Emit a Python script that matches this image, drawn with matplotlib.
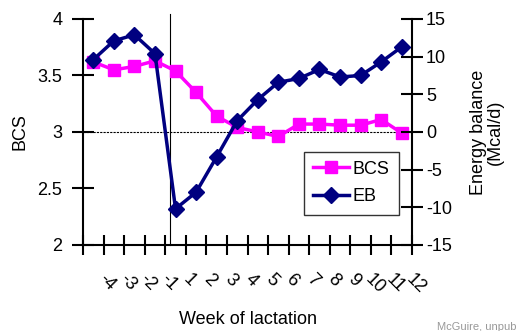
import matplotlib
matplotlib.use("Agg")
import matplotlib.pyplot as plt
import matplotlib.transforms as mtransforms

plt.rcParams['font.family'] = ['Liberation Sans', 'DejaVu Sans']
plt.rcParams['axes.unicode_minus'] = False

# weeks relative to calving (no week 0)
weeks = ['-4', '-3', '-2', '-1', '1', '2', '3', '4', '5', '6', '7', '8', '9', '10', '11', '12']
bcs = [3.62, 3.55, 3.58, 3.63, 3.54, 3.35, 3.14, 3.04, 3.00, 2.96, 3.07, 3.07, 3.06, 3.06, 3.11, 2.99]
eb = [9.6, 12.1, 12.9, 10.4, -10.2, -8.0, -3.3, 1.5, 4.3, 6.6, 7.1, 8.3, 7.3, 7.5, 9.3, 11.3]

pos = list(range(len(weeks)))

fig = plt.figure(figsize=(5.17, 3.31), dpi=100)
ax = fig.add_axes([0.1605, 0.26, 0.6365, 0.6826])
ax2 = ax.twinx()

l1, = ax.plot(pos, bcs, color='#FF00FF', lw=2.5, marker='s', ms=9, zorder=3)
l2, = ax2.plot(pos, eb, color='#000080', lw=2.5, marker='D', ms=8, zorder=3)

# calving marker and zero-balance reference line
ax.axvline(3.73, color='black', lw=0.8, ymax=1.02, clip_on=False)
ax.axhline(3.0, color='black', lw=0.8, ls=(0, (2, 1)), zorder=1)

ax.set_xlim(-0.5, len(weeks) - 0.5)
ax.set_ylim(2, 4)
ax2.set_ylim(-15, 15)
ax.set_yticks([2, 2.5, 3, 3.5, 4])
ax.set_yticklabels(['2', '2.5', '3', '3.5', '4'])
ax2.set_yticks(range(-15, 16, 5))

ax.set_xticks([p - 0.5 for p in pos] + [len(weeks) - 0.5])
ax.set_xticklabels([])
ax.set_xticks(pos, minor=True)
ax.set_xticklabels(weeks, minor=True, rotation=-45, ha='center', va='top', fontsize=13)
ax.tick_params(axis='x', which='minor', length=0, pad=16)
ax.tick_params(axis='x', which='major', direction='inout', length=14, width=1.5)

# nudge the slanted week labels right/down
shift = mtransforms.ScaledTranslation(14 / 100, -4 / 100, fig.dpi_scale_trans)
for lab in ax.get_xticklabels(minor=True):
    lab.set_transform(lab.get_transform() + shift)

ax.tick_params(axis='y', direction='inout', length=16, width=1.5, labelsize=13, pad=7)
ax2.tick_params(axis='y', direction='inout', length=16, width=1.5, labelsize=13, pad=2)

for a in (ax, ax2):
    a.spines['top'].set_visible(False)
    for s in ('left', 'right', 'bottom'):
        a.spines[s].set_linewidth(1.5)
ax.spines['right'].set_visible(False)
ax2.spines['left'].set_visible(False)
ax2.spines['bottom'].set_visible(False)

ax.set_ylabel('BCS', fontsize=13, labelpad=6)
ax2.set_ylabel('Energy balance\n(Mcal/d)', fontsize=13, labelpad=13, linespacing=1.0)
ax.set_xlabel('Week of lactation', fontsize=13, labelpad=10)

leg = ax2.legend([l1, l2], ['BCS', 'EB'], loc='upper left', bbox_to_anchor=(0.672, 0.413),
                 fontsize=13, frameon=True, fancybox=False, edgecolor='black',
                 handlelength=2.0, handletextpad=0.2, borderpad=0.5, labelspacing=0.6,
                 borderaxespad=0)
leg.get_frame().set_linewidth(1.0)

fig.text(437 / 517, 1 - 327 / 331, 'McGuire, unpublished', fontsize=8, color='#999999',
         va='center', ha='left')

fig.savefig('out.png', dpi=100)
